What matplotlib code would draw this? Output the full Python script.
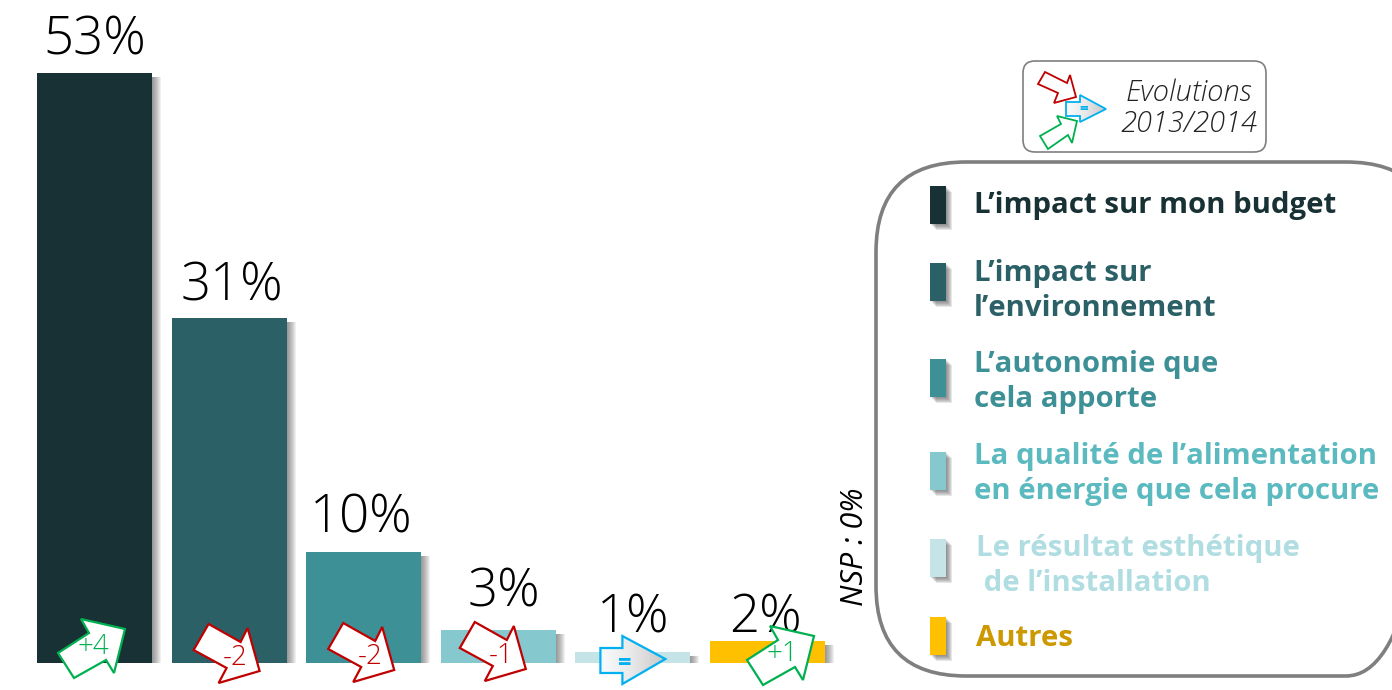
import matplotlib
matplotlib.use('Agg')
import matplotlib.pyplot as plt
from matplotlib.patches import FancyBboxPatch, Polygon, Rectangle
import numpy as np

legend_labels = ['L’impact sur mon budget', 'L’impact sur\nl’environnement', 'L’autonomie que\ncela apporte',
                 'La qualité de l’alimentation\nen énergie que cela procure', 'Le résultat esthétique\n de l’installation', 'Autres']
values = [53, 31, 10, 3, 1, 2]
evolutions = [4, -2, -2, -1, 0, 1]
evolution_labels = ['+4', '-2', '-2', '-1', '=', '+1']
value_labels = ['53%', '31%', '10%', '3%', '1%', '2%']
bar_colors = ['#183134', '#2A6066', '#3E9097', '#85C9CF', '#C5E4E8', '#FFC000']
text_colors = ['#183134', '#2A6066', '#3E9097', '#5BB9C0', '#B0DDE1', '#CC9900']

# pixel layout of the slide
W, H = 1392, 690
first_center = 94.5
step = 134.6
base_y = 663
px_per_pct = 11.14
bar_width = 115 / step
swatch_y = [186, 263, 359, 452, 539, 617]
legend_text_xy = [(974, 206), (974, 291), (974, 382), (974, 474), (976, 566), (976, 639)]
label_offset = [(0, 18), (3, 17), (-2, 19), (6, 23), (0, 19), (-2, 8)]
arrow_offset = [(0, 0), (0, 0), (0, -1), (-3, -2), (0, 0), (16, 7)]

arrow_up = [(-13.5, -44), (30.5, -34), (19.5, 10), (11.5, -3), (-20.5, 15), (-36.5, -10), (-5.5, -30)]
arrow_down = [(-20.5, -39), (11.5, -21), (18.5, -35), (30.5, 8), (-10.5, 20), (-2.5, 5), (-35.5, -13)]
arrow_flat = [(-32.5, -15), (-10.5, -15), (-10.5, -27), (32.5, -4), (-10.5, 21), (-10.5, 10), (-32.5, 10)]

thin_font = ['Open Sans', 'DejaVu Sans']
plt.rcParams['font.family'] = thin_font

fig = plt.figure(figsize=(W / 100, H / 100), dpi=100)

# bars, scaled so that they land on the slide pixels
ax = fig.add_axes([0, 0, 1, 1])
ax.set_xlim(-first_center / step, (W - first_center) / step)
ax.set_ylim(-(H - base_y) / px_per_pct, base_y / px_per_pct)
ax.axis('off')
x = np.arange(len(values))

for k in range(1, 10):
    ax.bar(x + k / step, np.array(values) - 0.4, width=bar_width, color='#444444', alpha=0.08, linewidth=0, zorder=1)
ax.bar(x, values, width=bar_width, color=bar_colors, linewidth=0, zorder=2)

for i in x:
    ax.annotate(value_labels[i], (i, values[i]), xytext=label_offset[i], textcoords='offset pixels',
                ha='center', va='baseline', fontsize=38, fontweight='light', color='black', zorder=3)

# everything else is drawn in slide pixels
over = fig.add_axes([0, 0, 1, 1])
over.set_xlim(0, W)
over.set_ylim(H, 0)
over.axis('off')
over.patch.set_alpha(0)


def blue_arrow(points, lw):
    poly = Polygon(points, closed=True, facecolor='none', edgecolor='#00B0F0', linewidth=lw, zorder=6)
    over.add_patch(poly)
    xs = [p[0] for p in points]
    ys = [p[1] for p in points]
    grad = np.linspace(0, 1, 64).reshape(1, -1)
    im = over.imshow(grad, cmap=matplotlib.colors.LinearSegmentedColormap.from_list('g', ['#F8FBFD', '#E8E8E8', '#C8C8C8']),
                     extent=[min(xs), max(xs), max(ys), min(ys)], aspect='auto', zorder=5)
    im.set_clip_path(Polygon(points, closed=True, transform=over.transData))
    over.set_xlim(0, W)
    over.set_ylim(H, 0)


for i in x:
    cx = first_center + step * i + arrow_offset[i][0]
    cy = base_y + arrow_offset[i][1]
    if evolutions[i] > 0:
        shape, color, tx, ty = arrow_up, '#00B050', -1, -16
    elif evolutions[i] < 0:
        shape, color, tx, ty = arrow_down, '#C00000', 6, -5
    else:
        shape, color, tx, ty = arrow_flat, '#00B0F0', -8.5, 1
    pts = [(cx + a, cy + b) for a, b in shape]
    if evolutions[i] == 0:
        blue_arrow(pts, 1.6)
        over.text(cx + tx, cy + ty, evolution_labels[i], color=color, fontsize=17, fontweight='bold',
                  ha='center', va='center', zorder=7)
    else:
        over.add_patch(Polygon(pts, closed=True, facecolor='white', edgecolor=color, linewidth=1.6, zorder=5))
        over.text(cx + tx, cy + ty, evolution_labels[i], color=color, fontsize=20, fontweight='light',
                  ha='center', va='center', zorder=7)

# legend frame, cut by the right edge like on the slide
over.add_patch(FancyBboxPatch((876 + 90, 162 + 90), 560 - 180, 514 - 180, boxstyle='round,pad=90,rounding_size=90',
                              facecolor='none', edgecolor='#7F7F7F', linewidth=2.6, zorder=2))

for i in range(len(legend_labels)):
    for k in range(1, 7):
        over.add_patch(Rectangle((930 + k, swatch_y[i] + k), 16, 38, facecolor='#444444', alpha=0.13, linewidth=0, zorder=2))
    over.add_patch(Rectangle((930, swatch_y[i]), 16, 38, facecolor=bar_colors[i], linewidth=0, zorder=3))
    over.text(legend_text_xy[i][0], legend_text_xy[i][1], legend_labels[i], color=text_colors[i], fontsize=21.2,
              fontweight='bold', ha='left', va='center', linespacing=1.28, zorder=4)

over.text(855, 547, 'NSP : 0%', rotation=90, style='italic', fontsize=22, color='black', ha='center', va='center')

# small key for the arrows
over.add_patch(FancyBboxPatch((1035, 73), 219, 67, boxstyle='round,pad=12,rounding_size=12',
                              facecolor='white', edgecolor='#7F7F7F', linewidth=1.2, zorder=2))
key_red = [(1045, 72), (1067, 83), (1070, 75), (1076, 97), (1054, 103), (1058, 93), (1038, 84)]
key_blue = [(1066, 102), (1080, 102), (1080, 95), (1106, 109), (1080, 122), (1080, 116), (1066, 116)]
key_green = [(1057, 116), (1077, 121), (1072, 143), (1068, 135), (1048, 149), (1040, 136), (1061, 124)]
over.add_patch(Polygon(key_red, closed=True, facecolor='white', edgecolor='#C00000', linewidth=1.3, zorder=4))
over.add_patch(Polygon(key_green, closed=True, facecolor='white', edgecolor='#00B050', linewidth=1.3, zorder=4))
blue_arrow(key_blue, 1.3)
over.text(1084, 109, '=', color='#00B0F0', fontsize=11, fontweight='bold', ha='center', va='center', zorder=7)
over.text(1189, 93, 'Evolutions', style='italic', fontweight='light', fontsize=21, color='#222222', ha='center', va='center', zorder=4)
over.text(1189, 124, '2013/2014', style='italic', fontweight='light', fontsize=21, color='#222222', ha='center', va='center', zorder=4)

fig.savefig('out.png', dpi=100)
